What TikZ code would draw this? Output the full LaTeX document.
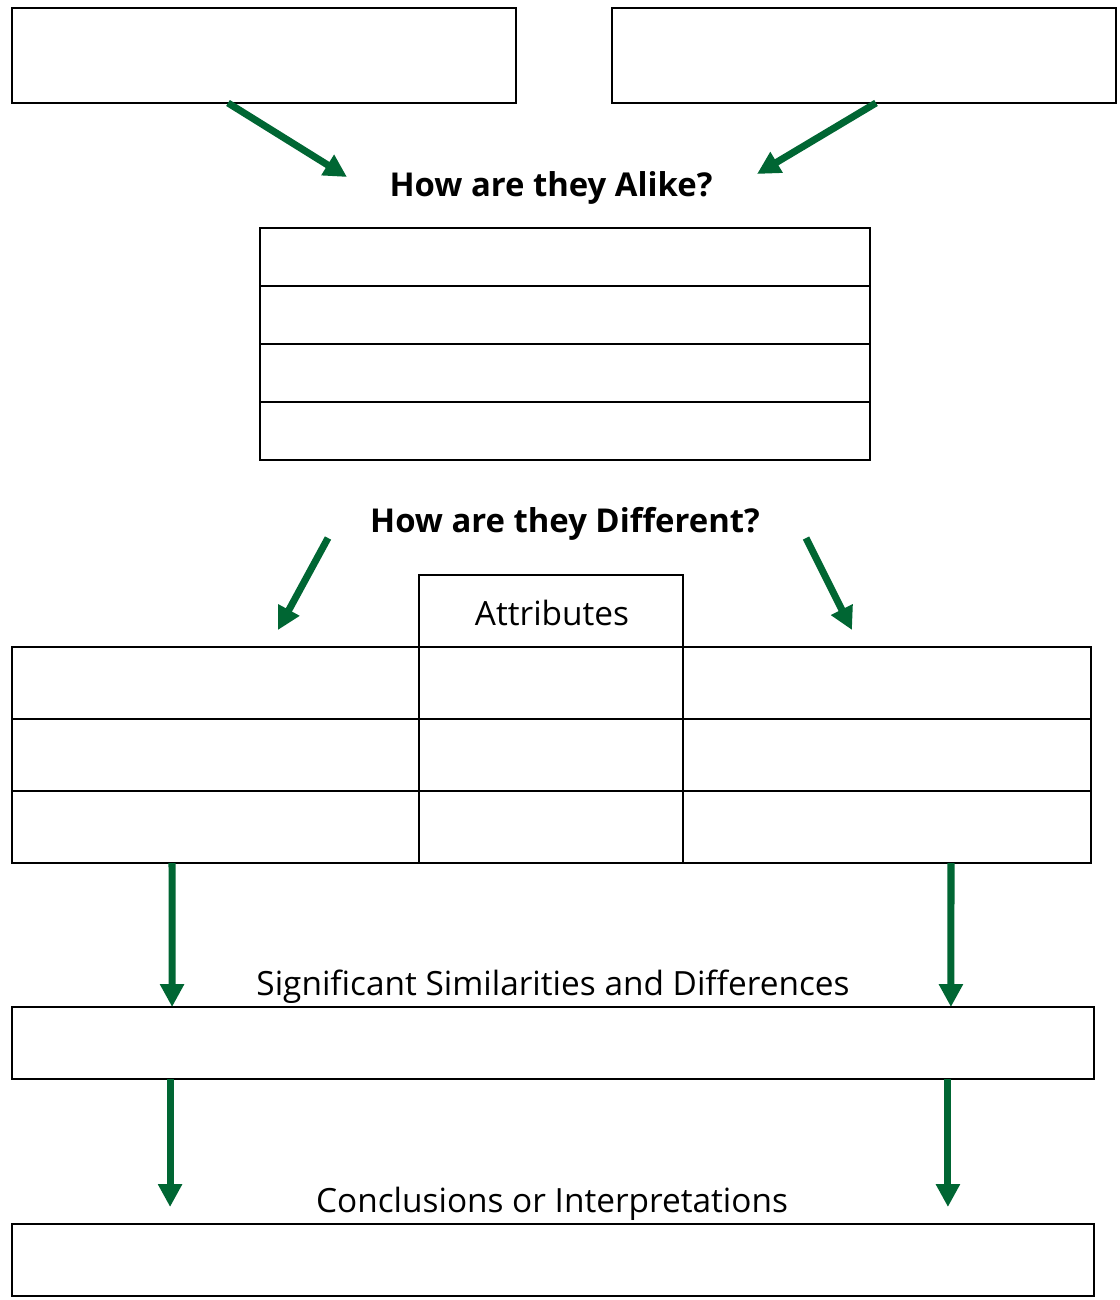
\documentclass[tikz,border=0pt]{standalone}
\usepackage{fontspec}
\setmainfont{Open Sans}
\usepackage{tikz}
\usetikzlibrary{arrows.meta}
\definecolor{dgreen}{RGB}{0,102,51}
\tikzset{bx/.append style={draw,line width=1.1pt,inner sep=0,outer sep=0}}
\tikzset{gar/.append style={draw=dgreen,line width=4pt,-{Triangle[length=13pt,width=13pt]}}}
\tikzset{qt/.append style={font=\fontsize{18.7}{22}\selectfont\bfseries,inner sep=0}}
\tikzset{lb/.append style={font=\fontsize{19}{22}\selectfont,inner sep=0}}

\begin{document}
\begin{tikzpicture}[x=0.02cm,y=-0.02cm]
                \useasboundingbox (0,0) rectangle (1119,1300);
                % top boxes
                \node[bx,minimum width=10.08cm,minimum height=1.9cm] (tl) at (264,55.5) {};
                \node[bx,minimum width=10.08cm,minimum height=1.9cm] (tr) at (864,55.5) {};
                \node[qt] (alike) at (551,188) {How are they Alike?};
                \coordinate (al) at (347,177);
                \coordinate (ar) at (757,174);
                \draw[gar] ([xshift=-0.72cm]tl.south) -- (al);
                \draw[gar] ([xshift=0.24cm]tr.south) -- (ar);
                % alike rows
                \node[bx,minimum width=12.2cm,minimum height=1.16cm] (r1) at (565,257) {};
                \node[bx,minimum width=12.2cm,minimum height=1.16cm] (r2) at (565,315) {};
                \node[bx,minimum width=12.2cm,minimum height=1.16cm] (r3) at (565,373) {};
                \node[bx,minimum width=12.2cm,minimum height=1.16cm] (r4) at (565,431) {};
                % different
                \node[qt] (diff) at (565,524) {How are they Different?};
                \coordinate (dl0) at (328,538);
                \coordinate (dl1) at (278,630);
                \coordinate (dr0) at (806,538);
                \coordinate (dr1) at (852,630);
                \draw[gar] (dl0) -- (dl1);
                \draw[gar] (dr0) -- (dr1);
                \node[bx,minimum width=5.28cm,minimum height=1.44cm] (attr) at (551,611) {};
                \node[lb] (attrt) at (552,613) {Attributes};
                \node[bx,minimum width=8.14cm,minimum height=1.44cm] (b1l) at (215.5,683) {};
                \node[bx,minimum width=8.14cm,minimum height=1.44cm] (b2l) at (215.5,755) {};
                \node[bx,minimum width=8.14cm,minimum height=1.44cm] (b3l) at (215.5,827) {};
                \node[bx,minimum width=5.28cm,minimum height=1.44cm] (b1m) at (551,683) {};
                \node[bx,minimum width=5.28cm,minimum height=1.44cm] (b2m) at (551,755) {};
                \node[bx,minimum width=5.28cm,minimum height=1.44cm] (b3m) at (551,827) {};
                \node[bx,minimum width=8.16cm,minimum height=1.44cm] (b1r) at (887,683) {};
                \node[bx,minimum width=8.16cm,minimum height=1.44cm] (b2r) at (887,755) {};
                \node[bx,minimum width=8.16cm,minimum height=1.44cm] (b3r) at (887,827) {};
                % significant
                \node[bx,minimum width=21.64cm,minimum height=1.44cm] (sig) at (553,1043) {};
                \node[lb] (sigt) at (553,987) {Significant Similarities and Differences};
                \draw[gar] ([xshift=-0.87cm]b3l.south) -- ([xshift=-7.62cm]sig.north);
                \draw[gar] ([xshift=1.28cm]b3r.south) -- ([xshift=7.96cm]sig.north);
                % conclusions
                \node[bx,minimum width=21.64cm,minimum height=1.44cm] (conc) at (553,1260) {};
                \node[lb] (conct) at (552,1204) {Conclusions or Interpretations};
                \draw[gar,shorten >=0.34cm] ([xshift=-7.66cm]sig.south) -- ([xshift=-7.66cm]conc.north);
                \draw[gar,shorten >=0.34cm] ([xshift=7.9cm]sig.south) -- ([xshift=7.9cm]conc.north);
            \end{tikzpicture}
\end{document}
